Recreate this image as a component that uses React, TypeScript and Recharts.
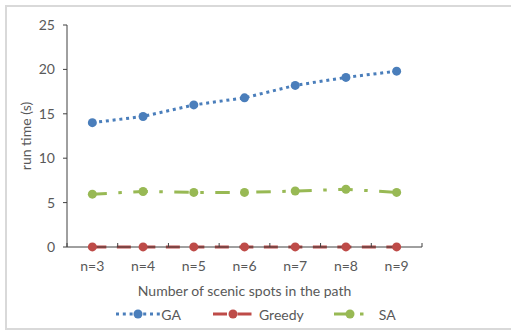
import { LineChart, Line, XAxis, YAxis, Legend } from "recharts";

const categories = ["n=3", "n=4", "n=5", "n=6", "n=7", "n=8", "n=9"];
const gaTimes = [14.0, 14.7, 16.0, 16.8, 18.2, 19.1, 19.8];
const greedyTimes = [0.01, 0.01, 0.01, 0.01, 0.01, 0.01, 0.01];
const saTimes = [5.95, 6.25, 6.15, 6.15, 6.3, 6.5, 6.15];
const yTicks = [0, 5, 10, 15, 20, 25];

const data = categories.map((n, i) => ({
  n,
  GA: gaTimes[i],
  Greedy: greedyTimes[i],
  SA: saTimes[i],
}));

const SERIES = [
  { key: "GA", color: "#4A7EBB", dash: "3 3.8", icon: 44, textGap: 1, gap: 0 },
  { key: "Greedy", color: "#BE4B48", dash: "14 10.5", icon: 40, textGap: 6, gap: 32 },
  { key: "SA", color: "#98B954", dash: "14.5 11.5 3.5 11.5", icon: 32, textGap: 13, gap: 30 },
];

const TEXT = "#595959";
const AXIS = "#404040";
const FONT = "Lato, 'Open Sans', sans-serif";
const FS = 14;

// plot area is 355px wide with 7 categories; ticks sit on category edges
const PLOT_W = 355;
const HALF_STEP = PLOT_W / categories.length / 2;

const CategoryTick = (props: any) => {
  const { x, y, payload, index, visibleTicksCount } = props;
  const last = index === visibleTicksCount - 1;
  return (
    <g>
      <line x1={x - HALF_STEP} y1={y} x2={x - HALF_STEP} y2={y - 4} stroke={AXIS} strokeWidth={1} />
      {last && (
        <line x1={x + HALF_STEP} y1={y} x2={x + HALF_STEP} y2={y - 4} stroke={AXIS} strokeWidth={1} />
      )}
      <text x={x} y={y + 19} dy="0.35em" textAnchor="middle" fill={TEXT} fontSize={FS} fontFamily={FONT}>
        {payload.value}
      </text>
    </g>
  );
};

const LegendIcon = ({ color, dash, width }: { color: string; dash: string; width: number }) => (
  <svg width={width} height={12} style={{ display: "block" }}>
    <line x1={0} y1={6} x2={width} y2={6} stroke={color} strokeWidth={3} strokeDasharray={dash} />
    <circle cx={width / 2} cy={6} r={4.5} fill={color} />
  </svg>
);

const ChartLegend = () => (
  <div
    style={{
      display: "flex",
      justifyContent: "center",
      alignItems: "center",
      height: 30,
      fontFamily: FONT,
      fontSize: FS,
      color: TEXT,
    }}
  >
    {SERIES.map((s) => (
      <div key={s.key} style={{ display: "flex", alignItems: "center", marginLeft: s.gap }}>
        <LegendIcon color={s.color} dash={s.dash} width={s.icon} />
        <span style={{ marginLeft: s.textGap }}>{s.key}</span>
      </div>
    ))}
  </div>
);

export default function App() {
  return (
    <div style={{ position: "absolute", left: 0, top: 0, width: 511, height: 334, background: "#fff", overflow: "hidden" }}>
      <div
        style={{
          position: "absolute",
          left: 5,
          top: 5,
          width: 520,
          height: 325,
          border: "2px solid #D9D9D9",
          boxSizing: "border-box",
        }}
      />
      <LineChart
        width={511}
        height={334}
        data={data}
        margin={{ top: 25, right: 89, left: 0, bottom: 5 }}
        style={{ position: "absolute", left: 0, top: 0 }}
      >
        <XAxis
          dataKey="n"
          height={52}
          padding={{ left: HALF_STEP, right: HALF_STEP }}
          axisLine={{ stroke: AXIS }}
          tickLine={false}
          tickSize={0}
          tickMargin={0}
          interval={0}
          tick={<CategoryTick />}
          label={{
            value: "Number of scenic spots in the path",
            position: "insideBottom",
            offset: 3,
            fill: TEXT,
            fontSize: FS,
            fontFamily: FONT,
          }}
        />
        <YAxis
          width={67}
          domain={[0, 25]}
          ticks={yTicks}
          interval={0}
          axisLine={{ stroke: AXIS }}
          tickLine={{ stroke: AXIS }}
          tickSize={4}
          tickMargin={8}
          tick={{ fill: TEXT, fontSize: FS, fontFamily: FONT }}
          label={{
            value: "run time (s)",
            angle: -90,
            position: "insideLeft",
            offset: 26,
            fill: TEXT,
            fontSize: FS,
            fontFamily: FONT,
            style: { textAnchor: "middle" },
          }}
        />
        <Legend
          verticalAlign="bottom"
          height={30}
          wrapperStyle={{ left: 0, width: 512 }}
          content={<ChartLegend />}
        />
        {SERIES.map((s) => (
          <Line
            key={s.key}
            dataKey={s.key}
            name={s.key}
            type="linear"
            stroke={s.color}
            strokeWidth={3}
            strokeDasharray={s.dash}
            dot={{ r: 4.5, fill: s.color, stroke: "none", strokeDasharray: "" }}
            activeDot={false}
            isAnimationActive={false}
          />
        ))}
      </LineChart>
    </div>
  );
}
